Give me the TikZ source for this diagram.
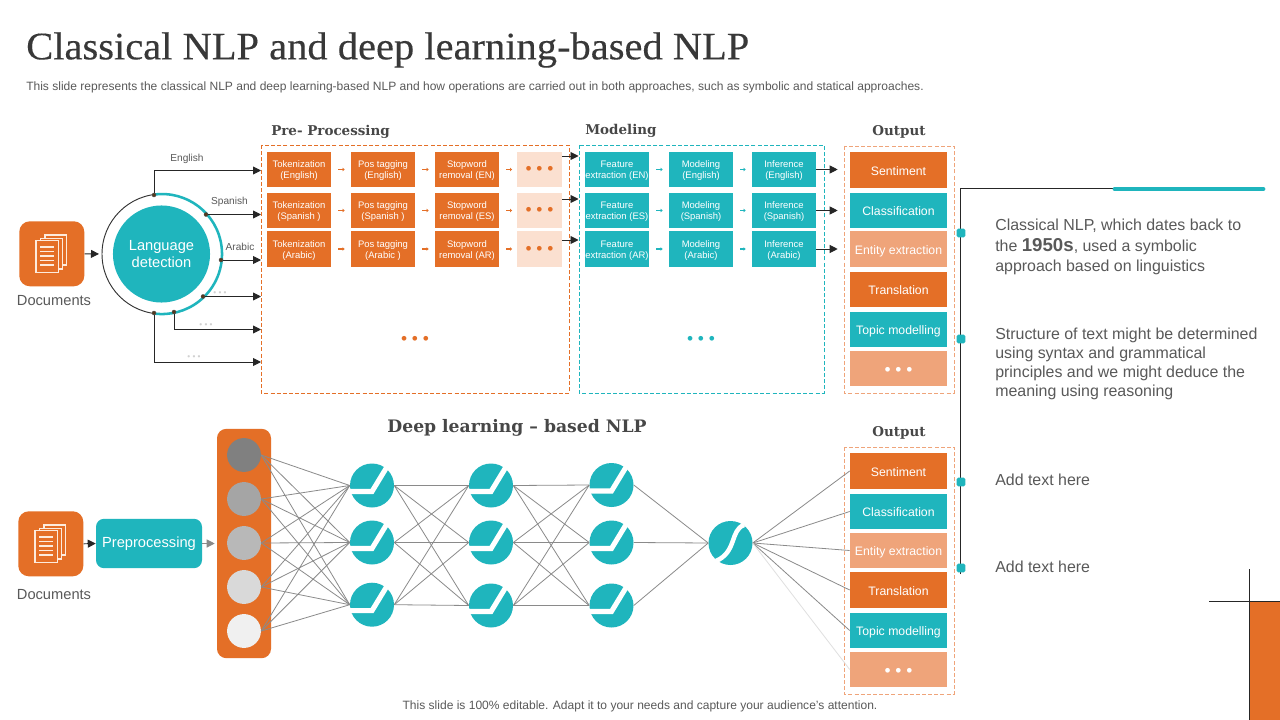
\documentclass[tikz,border=0pt]{standalone}
\usepackage{fontspec}
\setmainfont{Liberation Sans}
\newfontfamily\titlefont[FakeStretch=1.04,FakeBold=0.25]{Liberation Serif}
\newfontfamily\headfont{DejaVu Serif}
\usetikzlibrary{arrows.meta,calc}
\definecolor{org}{HTML}{E46F27}
\definecolor{tl}{HTML}{1FB5BD}
\definecolor{lorg}{HTML}{EFA47A}
\definecolor{porg}{HTML}{FBE0D0}
\definecolor{txt}{HTML}{595959}
\definecolor{lnk}{HTML}{8A8A8A}
\definecolor{cream}{HTML}{FDEBDD}
\newcommand{\fsz}[2]{\fontsize{#1pt}{#2pt}\selectfont}
\newcommand{\tstrut}{\rule{0pt}{7pt}}
\newcommand{\lowdots}{\raisebox{-4pt}[0pt][0pt]{• • •}}
\newcommand{\outdots}{\raisebox{-1.2pt}[0pt][0pt]{• • •}}
\tikzset{
  smallbox/.style={fill=#1,text=white,minimum width=48pt,minimum height=26.8pt,inner sep=0pt,align=center,font=\fsz{7.1}{8.3}},
  dotbox/.style={fill=porg,minimum width=33.8pt,minimum height=26.8pt,inner sep=0pt,text=org,font=\fsz{13}{13}},
  outbox/.style={fill=#1,text=white,minimum width=72.8pt,minimum height=26.8pt,inner sep=0pt,font=\fsz{9.2}{11},text height=9pt,text depth=1pt},
  panel/.style={draw=#1,dash pattern=on 3pt off 1.6pt,line width=0.6pt},
  blackarrow/.style={draw=black!85,line width=0.7pt,-{Triangle[length=6pt,width=6pt]}},
  tiny/.style={draw=#1,line width=1.1pt,-{Triangle[length=1.5pt,width=2.6pt]},shorten <=5.2pt,shorten >=4.6pt},
  wire/.style={draw=lnk,line width=0.6pt},
  heading/.style={font=\headfont\bfseries\fsz{10.1}{12},text=black!72,inner sep=0pt},
  lang/.style={font=\fsz{7.6}{9},text=txt,inner sep=0pt},
  gdots/.style={font=\fsz{6.2}{7},text=black!18,inner sep=0pt},
  side/.style={font=\fsz{11.95}{15},text=txt,inner sep=0pt,anchor=west,align=left},
  pin/.style={fill=tl,rounded corners=1pt,minimum width=6.4pt,minimum height=6.4pt,inner sep=0pt},
  dotjoint/.style={circle,fill=black!55!brown,draw=black!70,line width=0.3pt,minimum size=3pt,inner sep=0pt},
  inputdot/.style={circle,fill=#1,minimum size=25.4pt,inner sep=0pt},
  neuron/.style={circle,fill=tl,minimum size=33pt,inner sep=0pt},
}
\newcommand{\docicon}[3]{%
  \node[fill=org,rounded corners=8pt,minimum size=48.8pt,inner sep=0pt,anchor=north west] (#1) at (#2,#3) {};
  \begin{scope}[shift={(#2,#3)},draw=cream,line width=1pt,fill=org]
    \filldraw (26,14) rectangle (47.7,44);
    \filldraw (21.7,17.3) rectangle (43.3,48);
    \filldraw (17,19.7) rectangle (39.3,51.3);
    \foreach \yy in {26,30.5,35,39.5,44} \draw (21,\yy) -- (35,\yy);
  \end{scope}}
\newcommand{\neur}[3]{%
  \node[neuron] (#1) at (#2,#3) {};
  \draw[white,line width=3.8pt] ($(#2,#3)+(17,-22)$) -- ($(#2,#3)+(0,6)$) -- ($(#2,#3)+(-24,6)$);}
\begin{document}
\begin{tikzpicture}[x=0.75pt,y=-0.75pt]
\useasboundingbox (0,0) rectangle (1280,720);
\fill[white] (0,0) rectangle (1280,720);
% titles
\node[anchor=west,inner sep=0pt,font=\titlefont\fsz{29.2}{32},text=black!78] (title) at (26,50) {Classical NLP and deep learning-based NLP};
\node[anchor=west,inner sep=0pt,font=\fsz{9.03}{10},text=txt] (sub) at (26,87.5) {This slide represents the classical NLP and deep learning-based NLP and how operations are carried out in both approaches, such as symbolic and statical approaches.};
\node[inner sep=0pt,font=\fsz{9.03}{10},text=txt] (foot) at (640,706.5) {This slide is 100\% editable. Adapt it to your needs and capture your audience's attention.};
% headings
\node[heading,anchor=west] (hpre) at (271,132) {Pre- Processing};
\node[heading,anchor=west] (hmod) at (585,131) {Modeling};
\node[heading] (hout) at (899,132) {Output};
\node[heading,font=\headfont\bfseries\fsz{12.9}{14}] (hdeep) at (517,428) {Deep learning – based NLP};
\node[heading] (hout2) at (899,433) {Output};
% panels
\draw[panel=org] (261,145) rectangle (569,393);
\draw[panel=tl] (579,145) rectangle (824,393);
\draw[panel=lorg] (844,146) rectangle (954,393);
\draw[panel=lorg] (844,447) rectangle (954,694);
% pre-processing boxes
\foreach \nm/\yy/\ta/\tb/\tc in {1/169.5/(English)/(English)/removal (EN),2/210.5/(Spanish )/(Spanish )/removal (ES),3/249/(Arabic)/(Arabic )/removal (AR)}{
  \node[smallbox=org] (tok\nm) at (299,\yy) {\tstrut Tokenization\\\ta};
  \node[smallbox=org] (pos\nm) at (383,\yy) {\tstrut Pos tagging\\\tb};
  \node[smallbox=org] (stp\nm) at (467,\yy) {\tstrut Stopword\\\tc};
  \node[dotbox] (dts\nm) at (539.5,\yy) {\lowdots};
  \draw[tiny=org] (tok\nm) -- (pos\nm);
  \draw[tiny=org] (pos\nm) -- (stp\nm);
  \draw[tiny=org,shorten >=3.5pt] (stp\nm) -- (dts\nm);
}
% modeling boxes
\foreach \nm/\yy/\ta/\tb/\tc in {1/169.5/extraction (EN)/(English)/(English),2/210.5/extraction (ES)/(Spanish)/(Spanish),3/249/extraction (AR)/(Arabic)/(Arabic)}{
  \node[smallbox=tl] (fea\nm) at (617,\yy) {\tstrut Feature\\\ta};
  \node[smallbox=tl] (mod\nm) at (701,\yy) {\tstrut Modeling\\\tb};
  \node[smallbox=tl] (inf\nm) at (784,\yy) {\tstrut Inference\\\tc};
  \draw[tiny=tl] (fea\nm) -- (mod\nm);
  \draw[tiny=tl] (mod\nm) -- (inf\nm);
}
\node[inner sep=0pt,text=org,font=\fsz{13}{13}] (pdots) at (415,340.5) {• • •};
\node[inner sep=0pt,text=tl,font=\fsz{13}{13}] (mdots) at (701,340.5) {• • •};
% output boxes top
\node[outbox=org] (o1) at (898.5,170) {Sentiment};
\node[outbox=tl] (o2) at (898.5,210.5) {Classification};
\node[outbox=lorg] (o3) at (898.5,249) {Entity extraction};
\node[outbox=org] (o4) at (898.5,289.5) {Translation};
\node[outbox=tl] (o5) at (898.5,329.5) {Topic modelling};
\node[outbox=lorg,font=\fsz{13}{13}] (o6) at (898.5,368.5) {\outdots};
% panel-to-panel arrows
\foreach \i/\yy in {1/156,2/199,3/240}{
  \coordinate (ps\i) at (562,\yy); \coordinate (pe\i) at (578.5,\yy);
  \draw[blackarrow] (ps\i) -- (pe\i);
}
\foreach \i in {1,2,3}{ \draw[blackarrow,shorten >=9pt] (inf\i.east) -- (inf\i.east -| o1.west); }
% language detection
\docicon{doc1}{19}{221}
\node[inner sep=0pt,font=\fsz{11}{13},text=txt] (dl1) at (54,301) {Documents};
\node[circle,fill=white,minimum size=90pt,inner sep=0pt] (ring) at (162,254) {};
\draw[black!80,line width=0.7pt] (162,254) circle[radius=60];
\draw[tl,line width=1.9pt] (154,194.6) arc[start angle=-97.7,end angle=97.7,radius=60];
\node[circle,fill=tl,minimum size=72.8pt,inner sep=0pt,text=white,align=center,font=\fsz{11}{13.4}] (lang) at (161.5,254) {Language\\detection};
\coordinate (ringin) at (99,254);
\draw[blackarrow] (doc1.east) -- (ringin);
\node[dotjoint] (j1) at (154,195) {};
\node[dotjoint] (j2) at (206,214.5) {};
\node[dotjoint] (j3) at (221,260) {};
\node[dotjoint] (j4) at (203,296.5) {};
\node[dotjoint] (j5) at (174,312) {};
\node[dotjoint] (j6) at (154,313) {};
\coordinate (e1) at (261,170.5);
\coordinate (e2) at (261,214.5);
\coordinate (e3) at (261,260);
\coordinate (e4) at (261,296.5);
\coordinate (e5) at (261,329.5);
\coordinate (e6) at (261,362);
\draw[blackarrow] (j1) |- (e1);
\draw[blackarrow] (j2) -- (e2);
\draw[blackarrow] (j3) -- (e3);
\draw[blackarrow] (j4) -- (e4);
\draw[blackarrow] (j5) |- (e5);
\draw[blackarrow] (j6) |- (e6);
\node[lang] (len) at (187,159) {English};
\node[lang] (les) at (229.5,202) {Spanish};
\node[lang] (lar) at (240,247) {Arabic};
\node[gdots] (g1) at (220,294) {• • •};
\node[gdots] (g2) at (206,325.5) {• • •};
\node[gdots] (g3) at (194,358) {• • •};
% bottom network
\docicon{doc2}{18}{511}
\node[inner sep=0pt,font=\fsz{11}{13},text=txt] (dl2) at (54,595) {Documents};
\node[fill=tl,rounded corners=6pt,minimum width=79.5pt,minimum height=37pt,inner sep=0pt,text=white,font=\fsz{11}{13}] (prep) at (149,543.5) {Preprocessing};
\node[fill=org,rounded corners=7pt,minimum width=40.5pt,minimum height=172pt,inner sep=0pt] (inp) at (244,543.5) {};
\draw[blackarrow] (doc2.east) -- (prep.west);
\draw[draw=lnk,line width=0.8pt,-{Triangle[length=6pt,width=6pt]},shorten >=1.5pt] (prep.east) -- (inp.west);
\foreach \a/\yy/\cl in {1/455/808080,2/499/A5A5A5,3/543/B8B8B8,4/587/D9D9D9,5/631/F0F0F0}{
  \definecolor{cc}{HTML}{\cl}
  \node[inputdot=cc] (i\a) at (244,\yy) {};
}
\neur{a1}{372}{485.5}
\neur{a2}{372}{542.5}
\neur{a3}{372}{604.7}
\neur{b1}{491}{485.5}
\neur{b2}{491}{542.5}
\neur{b3}{491}{605.5}
\neur{c1n}{611.5}{485}
\neur{c2n}{611.5}{542.5}
\neur{c3n}{611.5}{605.5}
\node[neuron] (d) at (730.5,543) {};
\draw[white,line width=3.4pt] (744,525) .. controls (730,530) and (737,552) .. (716,561);
\foreach \a in {1,...,5}{\foreach \b in {1,2,3}{\draw[wire] (i\a.east) -- (a\b.west);}}
\foreach \a in {1,2,3}{\foreach \b in {1,2,3}{\draw[wire] (a\a.east) -- (b\b.west);}}
\foreach \a in {1,2,3}{\foreach \b in {1,2,3}{\draw[wire] (b\a.east) -- (c\b n.west);}}
\foreach \a in {1,2,3}{\draw[wire] (c\a n.east) -- (d.west);}
\node[outbox=org] (q1) at (898.5,471) {Sentiment};
\node[outbox=tl] (q2) at (898.5,511.5) {Classification};
\node[outbox=lorg] (q3) at (898.5,550.5) {Entity extraction};
\node[outbox=org] (q4) at (898.5,590) {Translation};
\node[outbox=tl] (q5) at (898.5,630.5) {Topic modelling};
\node[outbox=lorg,font=\fsz{13}{13}] (q6) at (898.5,669.5) {\outdots};
\draw[wire] (d.east) -- (q1.west);
\draw[wire] (d.east) -- (q2.west);
\draw[wire] (d.east) -- (q3.west);
\draw[wire] (d.east) -- (q4.west);
\draw[wire] (d.east) -- (q5.west);
\draw[draw=black!12,line width=0.6pt] (d.east) -- (q6.west);
% right column
\coordinate (rt) at (960.5,188);
\coordinate (rm) at (1113,188);
\coordinate (rb) at (960.5,574);
\coordinate (bar) at (1263,189);
\draw[black!85,line width=0.7pt] (rb) -- (rt) -- (rm);
\draw[tl,line width=3.6pt,line cap=round] (1115,189) -- (bar);
\node[pin] (p1) at (961,233) {};
\node[pin] (p2) at (961,339) {};
\node[pin] (p3) at (961,482) {};
\node[pin] (p4) at (961,568) {};
\node[side,font=\fsz{11.95}{15.4}] (s1) at (995,247) {Classical NLP, which dates back to\\the {\fsz{14}{15}\bfseries 1950s}, used a symbolic\\approach based on linguistics};
\node[side,font=\fsz{11.95}{14.3}] (s2) at (995,364) {Structure of text might be determined\\using syntax and grammatical\\principles and we might deduce the\\meaning using reasoning};
\node[side] (s3) at (995,480) {Add text here};
\node[side] (s4) at (995,567) {Add text here};
% corner
\fill[org] (1250,601) rectangle (1280,720);
\draw[black!85,line width=0.7pt] (1249.5,569) -- (1249.5,720);
\draw[black!85,line width=0.7pt] (1209,601) -- (1280,601);
\end{tikzpicture}
\end{document}
